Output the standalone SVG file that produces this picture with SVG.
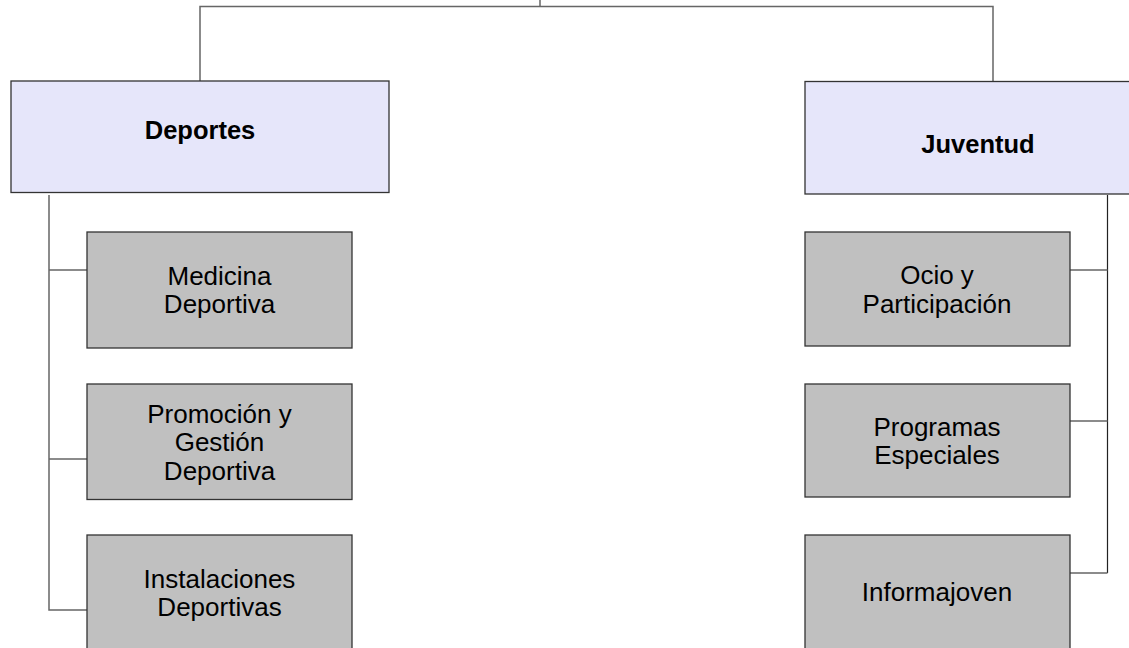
<svg xmlns="http://www.w3.org/2000/svg" width="1129" height="648" viewBox="0 0 1129 648">
<style>
.head rect{fill:#e6e6fa;stroke:#333;stroke-width:1.3}
.child rect{fill:#c0c0c0;stroke:#333;stroke-width:1.3}
text{font-family:"Liberation Sans",Arial,sans-serif;font-size:26px;fill:#000;text-anchor:middle}
.head text{font-weight:bold;font-size:25.5px}
#connectors path{fill:none;stroke:#666;stroke-width:1.5}
#connectors path.dark{stroke:#222;stroke-width:1.2}
</style>
<rect width="1129" height="648" fill="#fff"/>
<g id="connectors">
<path d="M540,0 V6.5"/>
<path d="M200,81 V6.5 H993 V81"/>
<path d="M49,195 V610 H87 M49,270 H87 M49,459 H87"/>
<path class="dark" d="M1107.5,195 V573"/>
<path d="M1070,270 H1107.5 M1070,421 H1107.5 M1070,573 H1107.5"/>
</g>
<g id="deportes" class="head"><rect x="11" y="81" width="378" height="111.5"/><text x="200" y="139">Deportes</text></g>
<g id="juventud" class="head"><rect x="805" y="81.5" width="378" height="112.5"/><text x="978" y="153">Juventud</text></g>
<g id="medicina" class="child"><rect x="87" y="232" width="265" height="116"/><text x="219.5" y="285">Medicina</text><text x="219.5" y="313">Deportiva</text></g>
<g id="promocion" class="child"><rect x="87" y="384" width="265" height="115.5"/><text x="219.5" y="423">Promoción y</text><text x="219.5" y="451">Gestión</text><text x="219.5" y="480">Deportiva</text></g>
<g id="instalaciones" class="child"><rect x="87" y="535" width="265" height="120"/><text x="219.5" y="588">Instalaciones</text><text x="219.5" y="616">Deportivas</text></g>
<g id="ocio" class="child"><rect x="805" y="232" width="265" height="114"/><text x="937" y="284">Ocio y</text><text x="937" y="313">Participación</text></g>
<g id="programas" class="child"><rect x="805" y="384" width="265" height="113"/><text x="937" y="436">Programas</text><text x="937" y="464">Especiales</text></g>
<g id="informajoven" class="child"><rect x="805" y="535" width="265" height="120"/><text x="937" y="601">Informajoven</text></g>
</svg>
